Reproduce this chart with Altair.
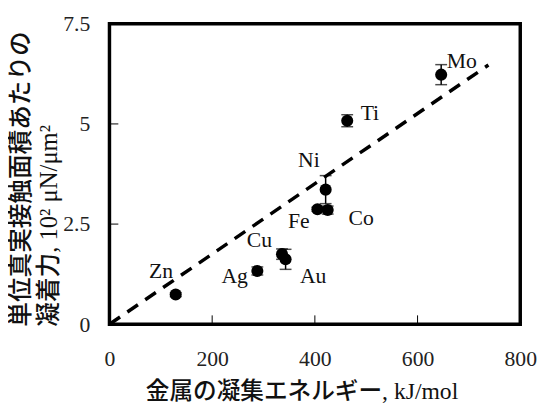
import altair as alt
import pandas as pd

metals = ["Zn", "Ag", "Cu", "Au", "Fe", "Co", "Ni", "Ti", "Mo"]
energy = [129, 288, 336, 343, 405, 425, 421, 463, 646]
force = [0.74, 1.33, 1.75, 1.62, 2.87, 2.85, 3.36, 5.08, 6.23]
error = [0.05, 0.10, 0.13, 0.25, 0.05, 0.10, 0.35, 0.15, 0.25]
label_dx = [-15, -23, -23, 28, -19, 34, -17, 23, 21]
label_dy = [-24, 5, -14, 17, 12, 8, -30, -8, -14]

fit_x = [0, 738]
fit_y = [0, 6.47]

x_ticks = [0, 200, 400, 600, 800]
y_ticks = [0, 2.5, 5, 7.5]

W, H = 417, 305

df = pd.DataFrame({"metal": metals, "energy": energy, "force": force, "err": error})
df["lo"] = df["force"] - df["err"]
df["hi"] = df["force"] + df["err"]

xs = alt.Scale(domain=[0, 800], nice=False)
ys = alt.Scale(domain=[0, 7.5], nice=False)

serif = "Liberation Serif"
mixed = "Liberation Serif, Noto Sans CJK JP"

x_enc = alt.X("energy:Q", scale=xs, axis=alt.Axis(
    values=x_ticks, ticks=False, domain=False, grid=False, labelFont=serif,
    labelFontSize=22, labelColor="#222", labelPadding=25, labelFlush=False,
    labelExpr="datum.value + ''",
    title="金属の凝集エネルギー, kJ/mol", titleFont=mixed, titleFontSize=24,
    titleFontWeight=500, titleColor="#111", titlePadding=10, titleX=195))
y_enc = alt.Y("force:Q", scale=ys, axis=alt.Axis(
    values=y_ticks, ticks=False, domain=False, grid=False, labelFont=serif,
    labelFontSize=22, labelColor="#222", labelPadding=20, labelFlush=False,
    labelExpr="datum.value + ''",
    title=["単位真実接触面積あたりの", "凝着力, 10² μN/μm²"], titleFont=mixed,
    titleFontSize=25, titleFontWeight=500, titleColor="#111",
    titleAngle=270, titleAlign="left", titleBaseline="top", titleAnchor="start",
    titleX=-102, titleY=H + 2, titleLineHeight=28))

base = alt.Chart(df)

points = base.mark_point(filled=True, size=150, color="black", opacity=1).encode(x=x_enc, y=y_enc)

err_rule = base.mark_rule(color="black", strokeWidth=1.5).encode(
    x="energy:Q", y="lo:Q", y2="hi:Q")
cap_hi = base.mark_tick(color="black", thickness=1.5, size=12, orient="horizontal").encode(
    x="energy:Q", y="hi:Q")
cap_lo = base.mark_tick(color="black", thickness=1.5, size=12, orient="horizontal").encode(
    x="energy:Q", y="lo:Q")

fit_df = pd.DataFrame({"energy": fit_x, "force": fit_y})
fit = alt.Chart(fit_df).mark_line(color="black", strokeWidth=3.5, strokeDash=[13, 9]).encode(
    x="energy:Q", y="force:Q")

labels = []
for m, e, f, dx, dy in zip(metals, energy, force, label_dx, label_dy):
    ldf = pd.DataFrame({"energy": [e], "force": [f], "metal": [m]})
    labels.append(alt.Chart(ldf).mark_text(
        font=serif, fontSize=22, color="#111", dx=dx, dy=dy, align="center", baseline="middle"
    ).encode(x="energy:Q", y="force:Q", text="metal:N"))

xt_df = pd.DataFrame({"energy": x_ticks[1:-1]})
xticks = alt.Chart(xt_df).mark_rule(color="black", strokeWidth=1).encode(
    x="energy:Q", y=alt.value(H), y2=alt.value(H - 9))
yt_df = pd.DataFrame({"force": y_ticks[1:-1]})
yticks = alt.Chart(yt_df).mark_rule(color="black", strokeWidth=1).encode(
    y="force:Q", x=alt.value(0), x2=alt.value(9))

chart = alt.layer(fit, err_rule, cap_hi, cap_lo, points, xticks, yticks, *labels).properties(
    width=W, height=H,
    padding={"left": 103, "top": 13, "right": 17, "bottom": 81},
    autosize=alt.AutoSizeParams(type="none"),
    background="white",
).configure_view(stroke="black", strokeWidth=3.5)

chart.save("out.html", embed_options={"renderer": "svg", "actions": False})
